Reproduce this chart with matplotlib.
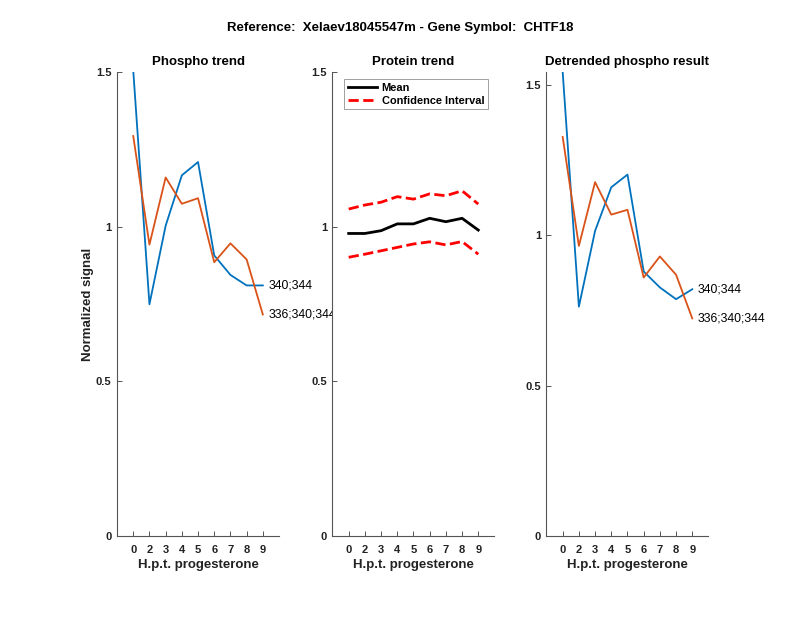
import matplotlib
matplotlib.use("Agg")
import matplotlib.pyplot as plt

plt.rcParams["font.family"] = ["Liberation Sans", "DejaVu Sans"]

# MATLAB-like palette
C_BLUE = "#0072BD"
C_ORANGE = "#D95319"
C_AXIS = "#555555"

# x categories (hours post treatment)
hours = ["0", "2", "3", "4", "5", "6", "7", "8", "9"]

# phospho trend (raw)
phospho_340_344 = [1.505, 0.749, 1.003, 1.166, 1.209, 0.907, 0.844, 0.810, 0.810]
phospho_336_340_344 = [1.293, 0.942, 1.159, 1.074, 1.092, 0.885, 0.946, 0.894, 0.716]

# protein trend
protein_mean = [0.978, 0.978, 0.987, 1.009, 1.009, 1.027, 1.016, 1.027, 0.989]
protein_ci_upper = [1.057, 1.070, 1.079, 1.097, 1.089, 1.106, 1.100, 1.116, 1.073]
protein_ci_lower = [0.901, 0.911, 0.922, 0.933, 0.944, 0.951, 0.941, 0.952, 0.911]

# detrended phospho
detrended_340_344 = [1.542, 0.762, 1.014, 1.159, 1.201, 0.879, 0.826, 0.787, 0.820]
detrended_336_340_344 = [1.326, 0.964, 1.176, 1.068, 1.084, 0.859, 0.929, 0.868, 0.723]

site_labels = ["340;344", "336;340;344"]


def style_axes(ax, ymax, yticks):
    ax.set_xlim(0, len(hours) + 1)
    ax.set_ylim(0, ymax)
    ax.set_xticks(range(1, len(hours) + 1))
    ax.set_xticklabels(hours)
    ax.set_yticks(yticks)
    ax.set_yticklabels([f"{t:g}" for t in yticks])
    for s in ("top", "right"):
        ax.spines[s].set_visible(False)
    for s in ("left", "bottom"):
        ax.spines[s].set_color(C_AXIS)
        ax.spines[s].set_linewidth(0.8)
    ax.tick_params(direction="in", length=3.6, width=0.7, color=C_AXIS,
                   labelsize=8)
    ax.tick_params(axis="x", pad=6.5)
    ax.tick_params(axis="y", pad=4)
    for lbl in ax.get_xticklabels() + ax.get_yticklabels():
        lbl.set_fontweight("bold")
        lbl.set_color("#222222")
    ax.set_xlabel("H.p.t. progesterone", fontsize=9.5, fontweight="bold",
                  labelpad=3, color="#222222")


def phospho_panel(ax, s1, s2, ymax, title):
    x = list(range(1, len(hours) + 1))
    ax.plot(x, s1, "-", color=C_BLUE, lw=1.3)
    ax.plot(x, s2, "-", color=C_ORANGE, lw=1.3)
    for lab, s in zip(site_labels, (s1, s2)):
        ax.text(x[-1] + 0.35, s[-1], lab, fontsize=8.8, va="center",
                ha="left", clip_on=False)
    style_axes(ax, ymax, [0, 0.5, 1, 1.5])
    ax.set_title(title, fontsize=9.5, fontweight="bold", pad=5)


def main():
    fig = plt.figure(figsize=(8, 6.18), dpi=100, facecolor="white")
    bottom, height, width = 0.1327, 0.7508, 0.2025

    axA = fig.add_axes([0.1463, bottom, width, height])
    phospho_panel(axA, phospho_340_344, phospho_336_340_344, 1.5,
                  "Phospho trend")
    axA.set_ylabel("Normalized signal", fontsize=9.5, fontweight="bold",
                   labelpad=1.5, color="#222222")

    axB = fig.add_axes([0.4156, bottom, width, height])
    x = list(range(1, len(hours) + 1))
    axB.plot(x, protein_mean, "-", color="black", lw=2, label="Mean")
    axB.plot(x, protein_ci_upper, "--", color="red", lw=2,
             label="Confidence Interval")
    axB.plot(x, protein_ci_lower, "--", color="red", lw=2)
    style_axes(axB, 1.5, [0, 0.5, 1, 1.5])
    axB.set_title("Protein trend", fontsize=9.5, fontweight="bold", pad=5)
    leg = axB.legend(loc="upper left", bbox_to_anchor=(0.07, 0.985),
                     prop={"size": 7.9, "weight": "bold"}, frameon=True,
                     fancybox=False, handlelength=2.7, borderpad=0.35,
                     labelspacing=0.25, handletextpad=0.4, borderaxespad=0)
    leg.get_frame().set_edgecolor("#888888")
    leg.get_frame().set_linewidth(0.7)

    axC = fig.add_axes([0.6831, bottom, width, height])
    phospho_panel(axC, detrended_340_344, detrended_336_340_344, 1.542,
                  "Detrended phospho result")

    fig.suptitle("Reference:  Xelaev18045547m - Gene Symbol:  CHTF18",
                 fontsize=9.5, fontweight="bold", y=0.965)

    fig.savefig("out.png", dpi=100, facecolor="white")


if __name__ == "__main__":
    main()
